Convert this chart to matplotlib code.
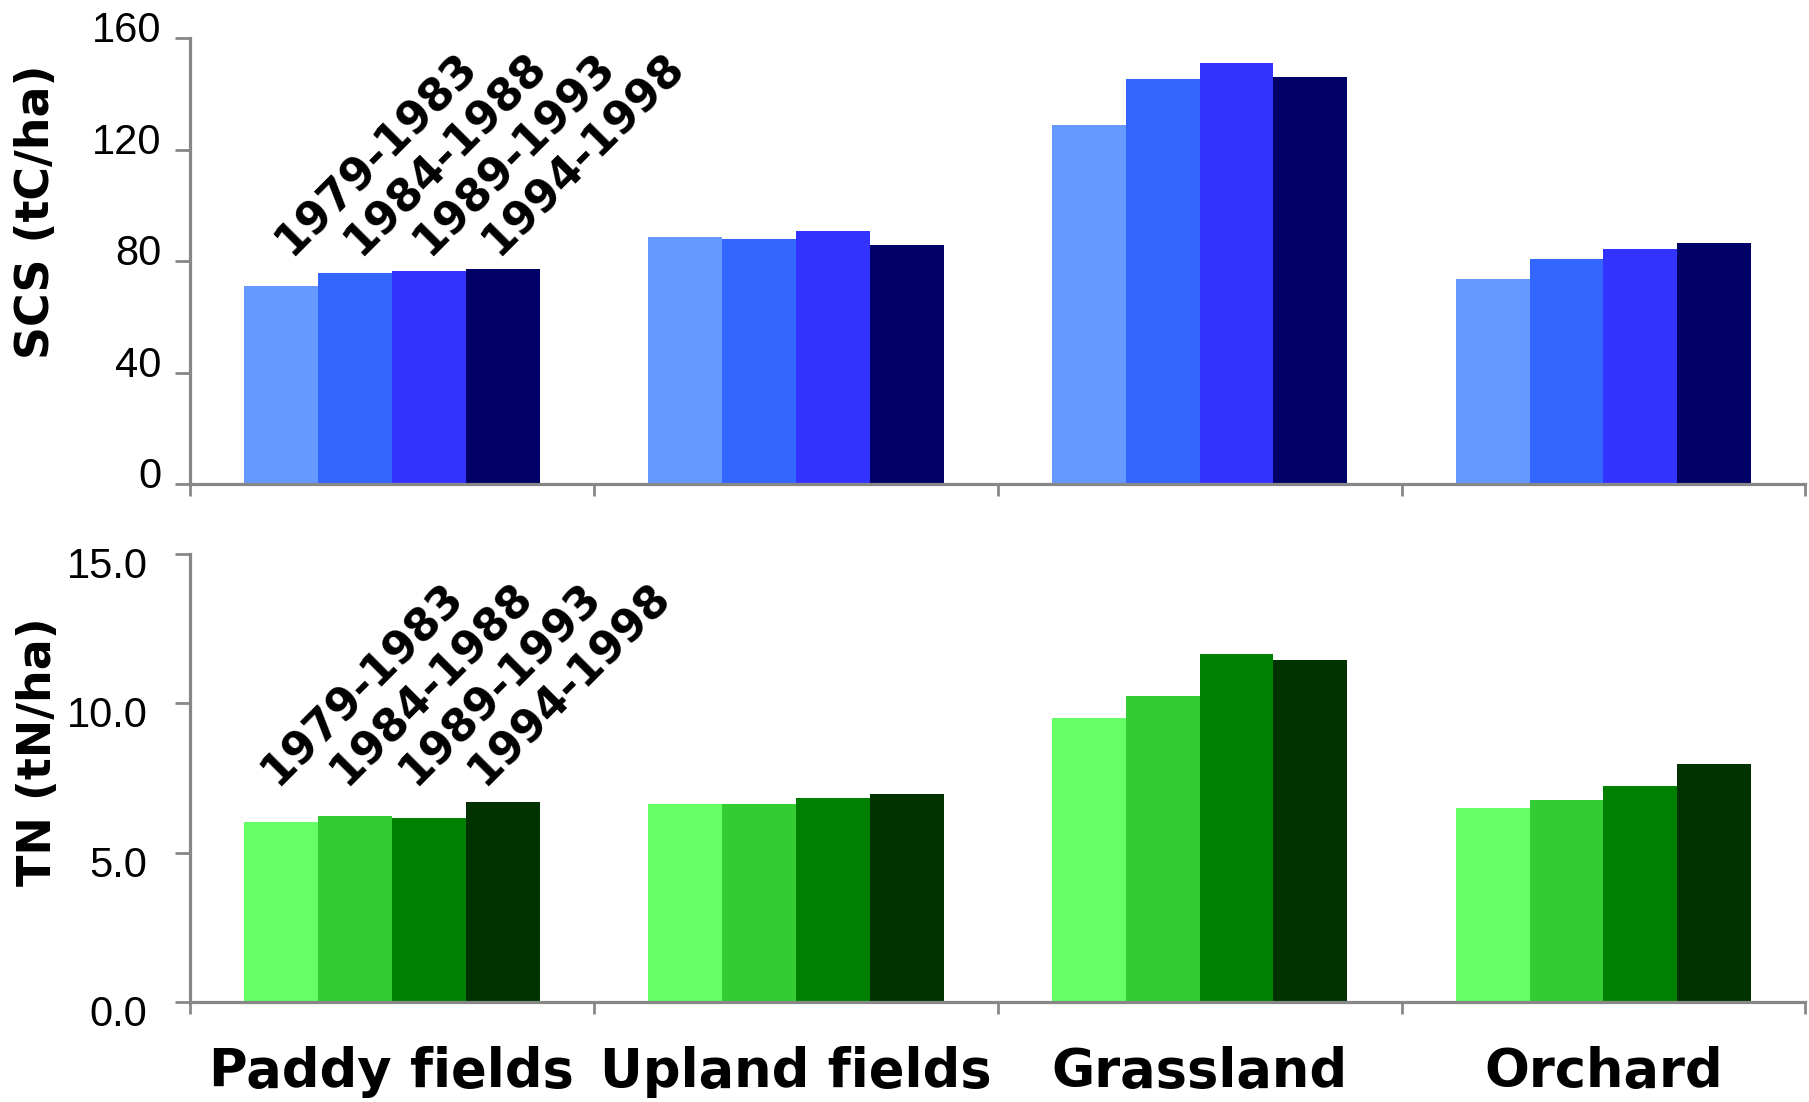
import numpy as np
import matplotlib
matplotlib.use("Agg")
import matplotlib.pyplot as plt
from matplotlib.transforms import ScaledTranslation

categories = ["Paddy fields", "Upland fields", "Grassland", "Orchard"]
periods = ["1979-1983", "1984-1988", "1989-1993", "1994-1998"]

# soil carbon stock (tC/ha), one list per period
scs_7983 = [70.9, 88.6, 128.7, 73.6]
scs_8488 = [75.7, 87.8, 145.3, 80.8]
scs_8993 = [76.5, 90.7, 151.2, 84.3]
scs_9498 = [77.3, 85.7, 145.9, 86.5]

# total nitrogen (tN/ha)
tn_7983 = [6.03, 6.63, 9.51, 6.50]
tn_8488 = [6.23, 6.63, 10.25, 6.77]
tn_8993 = [6.16, 6.83, 11.66, 7.24]
tn_9498 = [6.70, 6.97, 11.44, 7.96]

blues = ["#6699FF", "#3366FF", "#3333FF", "#000066"]
greens = ["#66FF66", "#33CC33", "#008000", "#003300"]

tick_font = "Liberation Sans"
bold_font = "DejaVu Sans"
axis_grey = "#878787"

fig = plt.figure(figsize=(18.09, 11.02), dpi=100)
ax1 = fig.add_axes([0.105, 0.5608, 0.893, 0.4047])
ax2 = fig.add_axes([0.105, 0.0907, 0.893, 0.4065])

x = np.arange(len(categories))
w = 0.183
offs = (np.arange(4) - 1.5) * w


def style_axes(ax, ylim, yticks, fmt, pad, shift_pt):
    ax.set_xlim(-0.5, len(categories) - 0.5)
    ax.set_ylim(*ylim)
    for s in ["top", "right"]:
        ax.spines[s].set_visible(False)
    for s in ["left", "bottom"]:
        ax.spines[s].set_color(axis_grey)
        ax.spines[s].set_linewidth(2.3)
    ax.set_yticks(yticks)
    ax.set_yticklabels([fmt.format(v) for v in yticks], fontfamily=tick_font, fontsize=30)
    ax.tick_params(axis="y", length=10.5, width=2, color=axis_grey, pad=pad)
    ax.set_xticks(np.arange(-0.5, len(categories)), minor=True)
    ax.tick_params(axis="x", which="minor", length=8.4, width=2, color=axis_grey)
    off = ScaledTranslation(0, shift_pt / 72, fig.dpi_scale_trans)
    for lbl in ax.get_yticklabels():
        lbl.set_transform(lbl.get_transform() + off)


series1 = [scs_7983, scs_8488, scs_8993, scs_9498]
for i, vals in enumerate(series1):
    ax1.bar(x + offs[i], vals, w, color=blues[i], linewidth=0)
style_axes(ax1, (0, 160), [0, 40, 80, 120, 160], "{:.0f}", 10, 8)
ax1.set_xticks([])

series2 = [tn_7983, tn_8488, tn_8993, tn_9498]
for i, vals in enumerate(series2):
    ax2.bar(x + offs[i], vals, w, color=greens[i], linewidth=0)
style_axes(ax2, (0, 15), [0, 5, 10, 15], "{:.1f}", 20, -6)
ax2.set_xticks(x)
ax2.set_xticklabels(categories, fontfamily=bold_font, fontweight="bold", fontsize=38)
ax2.tick_params(axis="x", which="major", length=0, pad=32)

# period labels above the first group
for i, p in enumerate(periods):
    ax1.text(offs[i] + 0.025 - 0.012 * i, 81.4, p, rotation=45, rotation_mode="anchor",
             ha="left", va="baseline", fontfamily=bold_font, fontweight="bold", fontsize=32)
    ax2.text(offs[i] - 0.008 - 0.012 * i, 7.2, p, rotation=45, rotation_mode="anchor",
             ha="left", va="baseline", fontfamily=bold_font, fontweight="bold", fontsize=32)

ax1.text(-0.095, 0.61, "SCS (tC/ha)", transform=ax1.transAxes, rotation=90,
         ha="center", va="center", fontfamily=bold_font, fontweight="bold", fontsize=33)
ax2.text(-0.094, 0.56, "TN (tN/ha)", transform=ax2.transAxes, rotation=90,
         ha="center", va="center", fontfamily=bold_font, fontweight="bold", fontsize=33)

fig.savefig("out.png", dpi=100, facecolor="white")
